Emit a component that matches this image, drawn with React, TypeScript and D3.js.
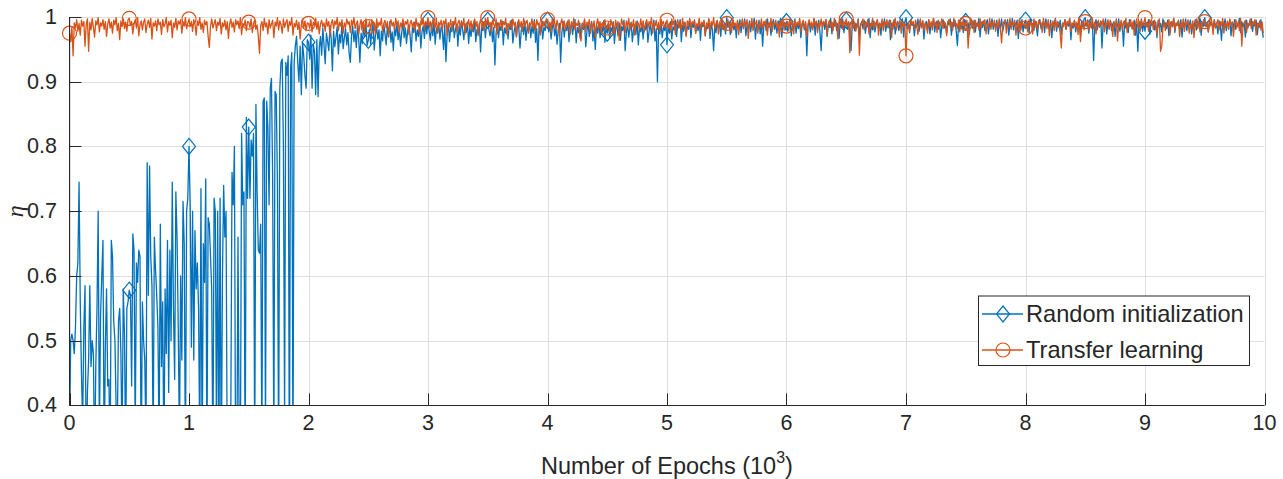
import React from 'react';
import * as d3 from 'd3';

// η per sample (one sample every 10 epochs)
const randomInit: number[] = [
  .35,.50,.51,.50,.48,.52,.60,.62,.745,.56,.45,.37,.52,.585,.30,.42,.47,.585,.46,.50,.48,.30,.46,.55,.70,
  .35,.54,.60,.655,.31,.49,.58,.43,.44,.30,.655,.63,.53,.50,.40,.36,.53,.55,.48,.33,.58,.51,.32,.55,.56,
  .578,.57,.43,.665,.64,.35,.62,.59,.64,.63,.30,.56,.50,.47,.34,.775,.57,.77,.63,.585,.33,.66,.61,.57,.52,
  .33,.68,.46,.56,.30,.58,.48,.655,.42,.64,.50,.745,.55,.44,.73,.66,.52,.34,.60,.47,.715,.65,.30,.70,.72,
  .80,.71,.49,.70,.47,.67,.58,.62,.55,.33,.735,.30,.65,.59,.75,.31,.69,.68,.63,.58,.30,.72,.70,.35,.70,
  .30,.72,.28,.60,.74,.66,.70,.30,.36,.25,.39,.76,.71,.80,.30,.28,.66,.35,.30,.82,.71,.73,.30,.845,.72,
  .83,.72,.81,.785,.82,.30,.865,.73,.64,.635,.68,.32,.87,.875,.35,.87,.83,.71,.89,.905,.75,.33,.885,.88,.745,
  .30,.89,.93,.935,.80,.38,.93,.91,.94,.25,.92,.945,.30,.93,.955,.97,.93,.90,.955,.88,.96,.94,.91,.89,.965,
  .961,.935,.972,.890,.958,.947,.880,.965,.877,.952,.970,.941,.983,.956,.928,.975,.962,.948,.987,.966,.917,.978,.954,.969,.985,
  .943,.973,.960,.990,.951,.968,.982,.957,.976,.944,.930,.971,.986,.962,.979,.953,.988,.967,.930,.975,.959,.984,.970,.992,.956,
  .964,.981,.958,.976,.991,.949,.972,.985,.966,.980,.940,.978,.963,.989,.974,.957,.986,.969,.993,.961,.977,.948,.984,.971,.990,
  .965,.982,.955,.975,.994,.968,.983,.959,.979,.988,.972,.946,.985,.976,.992,.963,.980,.970,.989,.952,.978,.986,.967,.991,.974,
  .995,.978,.964,.987,.971,.992,.958,.983,.975,.990,.966,.985,.979,.950,.988,.931,.973,.991,.962,.984,.977,.993,.968,.981,.989,
  .955,.986,.972,.994,.980,.965,.989,.976,.992,.959,.983,.970,.988,.977,.995,.962,.981,.974,.990,.946,.985,.979,.993,.968,.987,
  .995,.980,.971,.989,.962,.984,.926,.976,.991,.968,.986,.979,.994,.957,.983,.975,.990,.966,.988,.981,.995,.960,.977,.987,.970,
  .992,.983,.952,.979,.989,.973,.994,.964,.985,.978,.991,.968,.986,.975,.996,.961,.982,.933,.988,.974,.990,.966,.984,.979,.993,
  .995,.977,.988,.966,.983,.992,.971,.986,.958,.980,.990,.930,.975,.993,.969,.985,.979,.994,.962,.981,.989,.973,.987,.996,.960,
  .984,.976,.991,.967,.988,.981,.995,.954,.978,.990,.970,.985,.993,.963,.982,.950,.987,.975,.992,.968,.984,.978,.994,.961,.986,
  .975,.990,.967,.984,.978,.993,.959,.982,.987,.971,.991,.964,.985,.979,.995,.948,.976,.989,.969,.983,.992,.962,.980,.988,.973,
  .994,.957,.984,.977,.990,.966,.986,.980,.993,.961,.978,.989,.972,.985,.995,.963,.982,.900,.987,.974,.991,.968,.984,.979,.992,
  .957,.988,.975,.993,.966,.985,.980,.995,.970,.989,.983,.996,.962,.987,.978,.992,.972,.986,.981,.997,.968,.990,.984,.994,.975,
  .988,.979,.996,.964,.991,.985,.993,.971,.987,.982,.997,.967,.990,.980,.948,.986,.976,.994,.983,.989,.970,.995,.981,.988,.974,
  .999,.984,.991,.973,.987,.995,.980,.989,.968,.993,.982,.996,.976,.990,.985,.997,.971,.988,.981,.994,.977,.991,.986,.998,.966,
  .989,.983,.995,.974,.990,.955,.986,.993,.979,.997,.984,.991,.972,.988,.996,.981,.990,.975,.994,.987,.998,.969,.986,.992,.980,
  .993,.978,.989,.996,.971,.988,.984,.997,.975,.991,.982,.995,.968,.987,.993,.980,.990,.940,.986,.994,.977,.989,.983,.997,.972,
  .991,.985,.995,.976,.948,.988,.993,.981,.996,.970,.989,.984,.998,.974,.991,.986,.995,.979,.990,.967,.993,.983,.997,.976,.989,
  .995,.981,.992,.974,.948,.986,.996,.979,.990,.984,.997,.970,.988,.993,.982,.995,.975,.989,.985,.998,.968,.991,.980,.994,.977,
  .988,.996,.983,.990,.972,.993,.986,.997,.978,.989,.984,.995,.965,.990,.981,.996,.974,.988,.993,.979,.991,.985,.997,.969,.992,
  .999,.982,.990,.976,.995,.987,.992,.971,.989,.984,.997,.978,.991,.986,.994,.966,.988,.993,.980,.996,.974,.990,.985,.998,.977,
  .989,.994,.981,.992,.968,.987,.996,.983,.990,.975,.993,.988,.997,.972,.991,.985,.995,.979,.956,.989,.994,.982,.990,.976,.996,
  .993,.985,.991,.973,.996,.988,.982,.995,.977,.990,.986,.998,.969,.992,.984,.994,.979,.989,.996,.974,.991,.987,.997,.981,.990,
  .985,.995,.970,.992,.983,.997,.978,.989,.993,.986,.996,.972,.990,.984,.998,.980,.991,.987,.995,.967,.992,.982,.996,.977,.990,
  .995,.983,.992,.975,.997,.988,.990,.979,.994,.985,.971,.991,.996,.982,.989,.993,.976,.997,.986,.990,.980,.995,.968,.991,.987,
  .998,.978,.992,.984,.995,.973,.990,.988,.996,.981,.993,.986,.997,.965,.991,.983,.994,.977,.990,.988,.996,.972,.992,.985,.997,
  .999,.986,.990,.975,.995,.983,.992,.933,.988,.996,.980,.990,.985,.994,.952,.991,.987,.997,.974,.992,.983,.995,.979,.989,.993,
  .970,.990,.985,.997,.978,.992,.988,.955,.994,.983,.991,.976,.996,.986,.990,.981,.995,.972,.989,.947,.993,.984,.997,.978,.991,
  .978,.991,.985,.996,.973,.990,.987,.994,.980,.992,.968,.995,.984,.990,.977,.997,.986,.991,.982,.995,.971,.989,.993,.985,.998,
  .976,.991,.987,.994,.981,.996,.969,.990,.985,.997,.979,.992,.988,.995,.974,.990,.984,.996,.980,.993,.987,.998,.972,.991,.986,
  .999,.985,.992,.977,.995,.988,.990,.980,.996,.983,.991,.974,.994,.987,.964,.993,.985,.997,.979,.990,.988,.995,.971,.992,.984,
  .996,.981,.990,.987,.998,.976,.993,.985,.991,.969,.995,.983,.990,.987,.997,.978,.992,.986,.995,.973,.990,.984,.996,.980,.968,
];

const transferLearning: number[] = [
  .975,.962,.985,.940,.991,.983,.996,.978,.990,.972,.995,.986,.993,.955,.989,.997,.947,.992,.980,.998,.984,.969,.994,.988,.999,
  .977,.991,.986,.996,.981,.993,.970,.989,.997,.983,.992,.975,.995,.988,.999,.979,.990,.965,.994,.985,.997,.982,.992,.978,.996,
  .998,.987,.993,.974,.990,.996,.983,.999,.971,.988,.994,.980,.992,.997,.976,.989,.995,.984,.998,.966,.991,.986,.994,.979,.997,
  .988,.992,.973,.996,.985,.990,.999,.977,.993,.987,.995,.968,.991,.984,.998,.980,.994,.989,.996,.975,.992,.986,.999,.982,.990,
  .997,.985,.993,.978,.996,.989,.972,.994,.987,.999,.981,.991,.976,.995,.988,.993,.970,.953,.986,.997,.983,.990,.996,.979,.992,
  .987,.998,.974,.991,.985,.995,.980,.993,.967,.989,.997,.984,.992,.977,.996,.988,.994,.982,.999,.973,.990,.986,.995,.979,.993,
  .992,.984,.997,.976,.990,.995,.981,.988,.970,.944,.987,.993,.979,.998,.985,.991,.974,.996,.983,.989,.995,.968,.992,.986,.999,
  .980,.994,.988,.975,.997,.984,.991,.996,.978,.993,.987,.999,.972,.990,.985,.995,.981,.992,.966,.988,.997,.983,.994,.979,.991,
  .990,.983,.996,.977,.992,.987,.998,.981,.993,.974,.989,.995,.985,.991,.978,.997,.986,.993,.971,.990,.996,.982,.994,.988,.999,
  .979,.992,.986,.996,.975,.991,.984,.997,.989,.993,.976,.995,.987,.999,.982,.990,.994,.973,.988,.996,.983,.992,.978,.997,.986,
  .985,.993,.979,.996,.988,.991,.974,.997,.984,.992,.987,.998,.977,.990,.995,.983,.993,.970,.989,.996,.986,.992,.980,.998,.987,
  .994,.976,.991,.985,.997,.982,.993,.989,.996,.973,.990,.995,.984,.992,.979,.998,.986,.991,.975,.994,.988,.997,.981,.993,.989,
  .999,.986,.993,.978,.996,.990,.984,.998,.975,.992,.987,.995,.981,.994,.989,.997,.972,.991,.985,.996,.980,.993,.988,.999,.977,
  .990,.995,.983,.992,.986,.998,.974,.991,.987,.996,.982,.994,.978,.990,.997,.985,.993,.971,.989,.996,.984,.992,.979,.998,.988,
  .999,.987,.992,.976,.995,.989,.983,.997,.974,.991,.986,.996,.980,.993,.988,.998,.973,.990,.985,.994,.981,.997,.987,.992,.969,
  .989,.996,.984,.993,.978,.998,.986,.991,.995,.975,.990,.987,.997,.982,.993,.979,.996,.988,.991,.972,.995,.985,.993,.989,.997,
  .996,.984,.992,.977,.998,.989,.993,.981,.995,.986,.972,.990,.997,.983,.994,.979,.991,.988,.996,.974,.993,.985,.998,.980,.990,
  .987,.995,.970,.963,.991,.984,.997,.978,.992,.988,.996,.975,.990,.983,.994,.968,.989,.997,.982,.993,.977,.991,.986,.996,.980,
  .983,.992,.978,.996,.987,.990,.974,.995,.985,.993,.964,.981,.997,.988,.991,.976,.994,.986,.998,.979,.990,.985,.996,.972,.993,
  .987,.991,.980,.997,.984,.994,.977,.990,.996,.982,.993,.988,.999,.975,.991,.986,.995,.981,.992,.978,.997,.989,.993,.984,.990,
  .995,.982,.991,.977,.997,.988,.993,.973,.990,.996,.984,.992,.979,.998,.986,.991,.970,.994,.987,.997,.981,.993,.989,.996,.975,
  .990,.985,.998,.980,.992,.988,.995,.971,.991,.984,.997,.978,.993,.987,.999,.982,.990,.995,.974,.992,.986,.996,.983,.991,.979,
  .990,.996,.984,.992,.976,.998,.987,.991,.981,.995,.973,.990,.986,.997,.982,.993,.988,.996,.967,.991,.985,.998,.979,.992,.989,
  .995,.975,.990,.984,.997,.981,.993,.987,.996,.972,.991,.985,.998,.978,.992,.988,.995,.983,.990,.969,.994,.986,.997,.980,.991,
  .986,.993,.979,.997,.988,.991,.974,.995,.984,.992,.987,.998,.977,.990,.995,.982,.993,.970,.989,.996,.985,.992,.980,.998,.987,
  .994,.976,.991,.985,.997,.983,.993,.989,.996,.973,.990,.995,.984,.992,.979,.998,.986,.991,.966,.994,.988,.997,.981,.993,.989,
  .997,.985,.993,.945,.990,.996,.983,.992,.978,.988,.995,.941,.986,.991,.997,.980,.993,.987,.996,.974,.990,.985,.998,.981,.992,
  .988,.995,.972,.991,.984,.997,.979,.993,.987,.996,.983,.990,.995,.968,.992,.986,.998,.980,.991,.989,.996,.975,.993,.985,.990,
  .940,.984,.992,.978,.996,.989,.993,.981,.995,.986,.973,.990,.997,.983,.994,.979,.991,.988,.975,.996,.985,.993,.980,.998,.987,
  .992,.976,.995,.984,.990,.997,.982,.993,.988,.971,.991,.996,.985,.992,.979,.998,.987,.990,.983,.995,.977,.993,.986,.997,.981,
  .990,.995,.952,.984,.997,.988,.992,.976,.995,.986,.991,.980,.997,.983,.993,.989,.996,.974,.990,.985,.998,.981,.992,.987,.995,
  .978,.991,.984,.997,.982,.960,.989,.993,.996,.975,.990,.986,.998,.981,.992,.988,.995,.972,.991,.984,.997,.979,.993,.987,.990,
  .983,.992,.977,.996,.988,.991,.974,.997,.985,.993,.980,.995,.989,.991,.976,.998,.986,.992,.982,.996,.971,.990,.987,.994,.979,
  .997,.984,.993,.988,.975,.952,.991,.985,.996,.981,.993,.989,.998,.977,.990,.986,.995,.983,.992,.973,.997,.962,.988,.994,.980,
  .993,.987,.996,.979,.991,.985,.998,.982,.992,.974,.990,.995,.984,.993,.988,.997,.977,.991,.986,.996,.981,.994,.989,.970,.992,
  .985,.997,.963,.990,.984,.995,.980,.993,.988,.998,.976,.991,.986,.996,.982,.993,.972,.989,.997,.984,.992,.978,.995,.987,.991,
  .999,.985,.992,.978,.996,.989,.993,.981,.995,.986,.974,.990,.997,.947,.955,.983,.994,.979,.991,.988,.996,.973,.993,.985,.998,
  .980,.990,.987,.995,.970,.991,.984,.997,.978,.992,.988,.996,.975,.990,.983,.994,.968,.989,.997,.982,.993,.977,.991,.986,.996,
  .993,.986,.991,.977,.997,.988,.992,.973,.995,.984,.990,.996,.980,.993,.987,.998,.975,.991,.985,.994,.981,.997,.988,.992,.970,
  .989,.996,.984,.993,.979,.998,.955,.986,.991,.995,.976,.990,.987,.997,.982,.993,.989,.996,.972,.991,.985,.994,.980,.992,.975,
];

const EPOCH_STEP = 10; // epochs between samples
const MARKER_EVERY = 50; // one marker every 500 epochs
const xTicks = [0, 1, 2, 3, 4, 5, 6, 7, 8, 9, 10];
const yTicks = [0.4, 0.5, 0.6, 0.7, 0.8, 0.9, 1];
const seriesNames = ['Random initialization', 'Transfer learning'];
const seriesColors = ['#0072BD', '#D95319'];

const W = 1283;
const H = 479;
const TXT = '#262626';
const FONT = "Arial, 'Liberation Sans', Helvetica, sans-serif";

function diamondPath(cx: number, cy: number, hw = 6.5, hh = 8) {
  return `M${cx},${cy - hh}L${cx + hw},${cy}L${cx},${cy + hh}L${cx - hw},${cy}Z`;
}

export default function App() {
  const x = d3.scaleLinear().domain([0, 10]).range([69.5, 1264.5]);
  const y = d3.scaleLinear().domain([0.4, 1]).range([405.4, 17]);
  const [x0, x1] = x.range();
  const [yb, yt] = y.range();

  const toPts = (arr: number[]) => arr.map((v, i) => [(i * EPOCH_STEP) / 1000, v] as [number, number]);
  const line = d3
    .line<[number, number]>()
    .x((d) => x(d[0]))
    .y((d) => y(d[1]));

  const series = [randomInit, transferLearning].map((arr, k) => {
    const pts = toPts(arr);
    const markers = pts.filter((_, i) => i % MARKER_EVERY === 0).filter((d) => d[1] >= 0.4 && d[1] <= 1);
    return { pts, markers, color: seriesColors[k], name: seriesNames[k], kind: k === 0 ? 'diamond' : 'circle' };
  });

  const legX = 978.5, legY = 296, legW = 271, legH = 69.5;

  return (
    <svg width={W} height={H} style={{ position: 'absolute', left: 0, top: 0, background: '#fff' }} xmlns="http://www.w3.org/2000/svg">
      <defs>
        <clipPath id="plotClip">
          <rect x={x0} y={yt} width={x1 - x0} height={yb - yt} />
        </clipPath>
      </defs>
      <rect x={0} y={0} width={W} height={H} fill="#fff" />
      {/* grid */}
      {xTicks.map((t) => (
        <line key={'gx' + t} x1={Math.round(x(t)) + 0.5} x2={Math.round(x(t)) + 0.5} y1={yt} y2={yb} stroke="#dfdfdf" strokeWidth={1} />
      ))}
      {yTicks.map((t) => (
        <line key={'gy' + t} x1={x0} x2={x1} y1={Math.round(y(t)) + 0.5} y2={Math.round(y(t)) + 0.5} stroke="#dfdfdf" strokeWidth={1} />
      ))}
      {/* series */}
      {series.map((s, k) => (
        <g key={'s' + k}>
          <path d={line(s.pts) || ''} fill="none" stroke={s.color} strokeWidth={1.3} strokeLinejoin="round" clipPath="url(#plotClip)" />
          {s.markers.map((d, i) =>
            s.kind === 'diamond' ? (
              <path key={i} d={diamondPath(x(d[0]), y(d[1]))} fill="none" stroke={s.color} strokeWidth={1.2} />
            ) : (
              <circle key={i} cx={x(d[0])} cy={y(d[1])} r={7} fill="none" stroke={s.color} strokeWidth={1.2} />
            )
          )}
        </g>
      ))}
      {/* axes */}
      <line x1={x0} x2={x0} y1={yt} y2={yb} stroke={TXT} strokeWidth={1} />
      <line x1={x0} x2={x1} y1={Math.round(yb) + 0.5} y2={Math.round(yb) + 0.5} stroke={TXT} strokeWidth={1} />
      {xTicks.map((t) => (
        <g key={'tx' + t}>
          <line x1={Math.round(x(t)) + 0.5} x2={Math.round(x(t)) + 0.5} y1={yb} y2={yb - 12} stroke={TXT} strokeWidth={1} />
          <text x={x(t)} y={423} textAnchor="middle" dominantBaseline="central" fontFamily={FONT} fontSize={21.5} fill={TXT}>
            {String(t)}
          </text>
        </g>
      ))}
      {yTicks.map((t) => (
        <g key={'ty' + t}>
          <line x1={x0} x2={x0 + 12} y1={Math.round(y(t)) + 0.5} y2={Math.round(y(t)) + 0.5} stroke={TXT} strokeWidth={1} />
          <text x={57} y={y(t)} textAnchor="end" dominantBaseline="central" fontFamily={FONT} fontSize={21.5} fill={TXT}>
            {String(t)}
          </text>
        </g>
      ))}
      {/* axis titles */}
      <text x={(x0 + x1) / 2} y={466} textAnchor="middle" dominantBaseline="central" fontFamily={FONT} fontSize={23.5} fill={TXT}>
        Number of Epochs (10
        <tspan fontSize={16} dy={-9}>3</tspan>
        <tspan dy={9}>)</tspan>
      </text>
      <text
        transform={`translate(15,${(yt + yb) / 2}) rotate(-90)`}
        textAnchor="middle"
        dominantBaseline="central"
        fontFamily="'Liberation Serif', 'DejaVu Serif', serif"
        fontStyle="italic"
        fontSize={24}
        fill={TXT}
      >
        η
      </text>
      {/* legend */}
      <rect x={legX} y={legY} width={legW} height={legH} fill="#fff" stroke={TXT} strokeWidth={1} />
      {series.map((s, k) => {
        const cy = 314 + k * 36;
        return (
          <g key={'lg' + k}>
            <line x1={982} x2={1023} y1={cy} y2={cy} stroke={s.color} strokeWidth={1.3} />
            {s.kind === 'diamond' ? (
              <path d={diamondPath(1003, cy)} fill="none" stroke={s.color} strokeWidth={1.2} />
            ) : (
              <circle cx={1003} cy={cy} r={7} fill="none" stroke={s.color} strokeWidth={1.2} />
            )}
            <text x={1026} y={cy} dominantBaseline="central" fontFamily={FONT} fontSize={23.6} fill={TXT}>
              {s.name}
            </text>
          </g>
        );
      })}
    </svg>
  );
}
